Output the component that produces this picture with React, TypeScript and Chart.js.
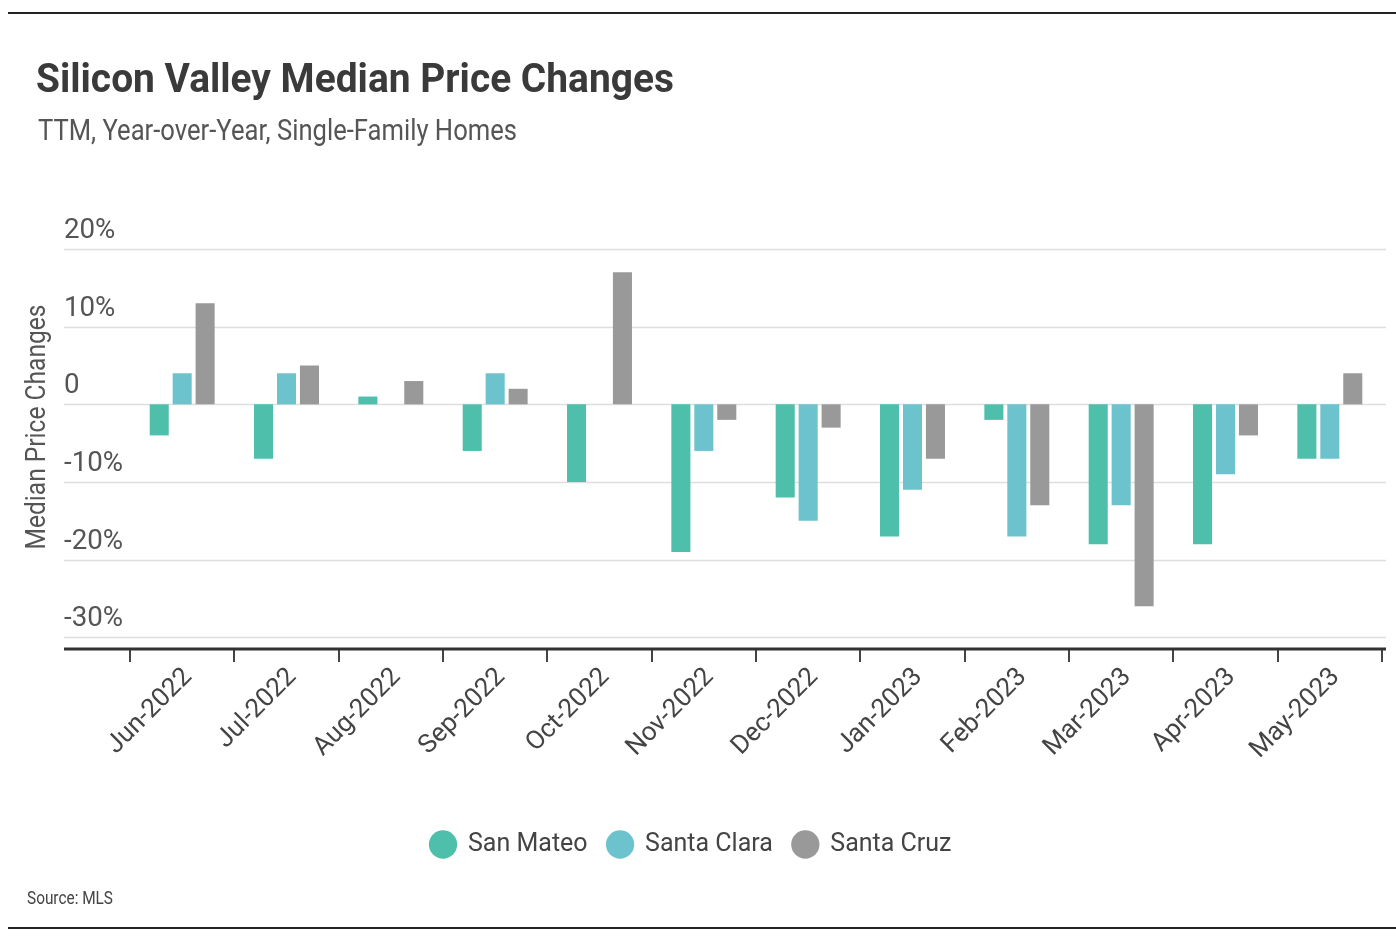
import React, { useEffect, useRef } from "react";
import { Chart, registerables } from "chart.js";

Chart.register(...registerables);

const categories = [
  "Jun-2022", "Jul-2022", "Aug-2022", "Sep-2022", "Oct-2022", "Nov-2022",
  "Dec-2022", "Jan-2023", "Feb-2023", "Mar-2023", "Apr-2023", "May-2023",
];
const sanMateo = [-4, -7, 1, -6, -10, -19, -12, -17, -2, -18, -18, -7];
const santaClara = [4, 4, 0, 4, 0, -6, -15, -11, -17, -13, -9, -7];
const santaCruz = [13, 5, 3, 2, 17, -2, -3, -7, -13, -26, -4, 4];
const seriesNames = ["San Mateo", "Santa Clara", "Santa Cruz"];
const seriesColors = ["#4dbfab", "#6cc3cd", "#999999"];
const yTicks = [20, 10, 0, -10, -20, -30];
const yTickLabels = ["20%", "10%", "0", "-10%", "-20%", "-30%"];

const TITLE = "Silicon Valley Median Price Changes";
const SUBTITLE = "TTM, Year-over-Year, Single-Family Homes";
const SOURCE = "Source: MLS";
const Y_TITLE = "Median Price Changes";

const FAMILY = "Roboto, 'Noto Sans', sans-serif";

function squeezed(
  ctx: CanvasRenderingContext2D,
  text: string,
  x: number,
  y: number,
  font: string,
  color: string,
  width: number,
  align: "left" | "center" = "left",
  rotation = 0
) {
  ctx.save();
  ctx.font = font;
  ctx.fillStyle = color;
  ctx.textBaseline = "alphabetic";
  ctx.textAlign = "left";
  const w = ctx.measureText(text).width;
  const sx = width / w;
  ctx.translate(x, y);
  if (rotation) ctx.rotate(rotation);
  ctx.scale(sx, 1);
  ctx.fillText(text, align === "center" ? -w / 2 : 0, 0);
  ctx.restore();
}

const decorPlugin = {
  id: "decor",
  beforeDatasetsDraw(chart: any) {
    const ctx: CanvasRenderingContext2D = chart.ctx;
    const y = chart.scales.y;
    const area = chart.chartArea;
    ctx.save();
    ctx.strokeStyle = "#dedede";
    ctx.lineWidth = 1.5;
    yTicks.forEach((v) => {
      const py = Math.round(y.getPixelForValue(v)) + 0.5;
      ctx.beginPath();
      ctx.moveTo(64, py);
      ctx.lineTo(area.right + 4, py);
      ctx.stroke();
    });
    ctx.restore();
    // y tick labels
    ctx.save();
    const lf = `28px ${FAMILY}`;
    ctx.font = lf;
    const ref = ctx.measureText("-10%").width;
    const sx = 59 / ref;
    ctx.restore();
    yTicks.forEach((v, i) => {
      const py = y.getPixelForValue(v) - 11;
      ctx.save();
      ctx.font = lf;
      const w = ctx.measureText(yTickLabels[i]).width;
      ctx.restore();
      squeezed(ctx, yTickLabels[i], 64, py, lf, "#555555", w * sx);
    });
    // y title
    squeezed(ctx, Y_TITLE, 45, 427, `28px ${FAMILY}`, "#555555", 245, "center", -Math.PI / 2);
  },
  afterDraw(chart: any) {
    const ctx: CanvasRenderingContext2D = chart.ctx;
    const area = chart.chartArea;
    ctx.save();
    // x axis baseline
    ctx.strokeStyle = "#333333";
    ctx.lineWidth = 3;
    ctx.beginPath();
    ctx.moveTo(64, area.bottom);
    ctx.lineTo(area.right + 4, area.bottom);
    ctx.stroke();
    // page rules
    ctx.strokeStyle = "#222222";
    ctx.lineWidth = 2;
    ctx.beginPath();
    ctx.moveTo(8, 13);
    ctx.lineTo(1396, 13);
    ctx.stroke();
    ctx.beginPath();
    ctx.moveTo(8, 928);
    ctx.lineTo(1396, 928);
    ctx.stroke();
    ctx.restore();
    squeezed(ctx, TITLE, 36, 92, `bold 40px ${FAMILY}`, "#3a3a3a", 638);
    squeezed(ctx, SUBTITLE, 38, 140, `29px ${FAMILY}`, "#555555", 479);
    squeezed(ctx, SOURCE, 27, 904, `19px ${FAMILY}`, "#444444", 86);
  },
};

export default function App() {
  const canvasRef = useRef<HTMLCanvasElement | null>(null);

  useEffect(() => {
    if (!canvasRef.current) return;
    const datasets = [sanMateo, santaClara, santaCruz].map((d, i) => ({
      label: seriesNames[i],
      data: d,
      backgroundColor: seriesColors[i],
      borderWidth: 0,
      categoryPercentage: 0.66,
      barPercentage: 0.83,
    }));
    const chart = new Chart(canvasRef.current, {
      type: "bar",
      data: { labels: categories, datasets },
      options: {
        animation: false,
        responsive: true,
        maintainAspectRatio: false,
        layout: { padding: { top: 249, left: 0, right: 14, bottom: 77 } },
        plugins: {
          tooltip: { enabled: false },
          legend: {
            position: "bottom",
            labels: {
              usePointStyle: true,
              pointStyle: "circle",
              boxWidth: 28,
              boxHeight: 20,
              padding: 20,
              color: "#444444",
              font: { family: FAMILY, size: 25 },
            },
          },
        },
        scales: {
          x: {
            grid: {
              offset: true,
              drawOnChartArea: false,
              drawTicks: true,
              tickLength: 13,
              color: "#444444",
              lineWidth: 2,
            },
            border: { display: false },
            ticks: {
              autoSkip: false,
              minRotation: 45,
              maxRotation: 45,
              padding: 0,
              labelOffset: 6,
              color: "#444444",
              font: { family: FAMILY, size: 26 },
            },
            afterFit: (s: any) => {
              s.height = 163;
            },
          },
          y: {
            min: -31.5,
            max: 20,
            ticks: { display: false },
            grid: { display: false },
            border: { display: false },
            afterFit: (s: any) => {
              s.width = 130;
            },
          },
        },
      },
      plugins: [decorPlugin],
    });
    return () => chart.destroy();
  }, []);

  return (
    <div style={{ position: "absolute", left: 0, top: 0, width: 1396, height: 944, background: "#fff" }}>
      <canvas ref={canvasRef} />
    </div>
  );
}
